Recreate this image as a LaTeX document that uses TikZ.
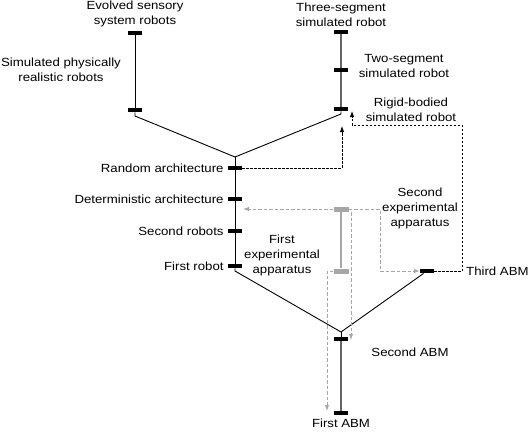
\documentclass[tikz,border=0pt]{standalone}
\usepackage{fontspec}
\setmainfont{Liberation Sans}[FakeStretch=1.12]
\usetikzlibrary{arrows.meta,positioning}

\begin{document}
\begin{tikzpicture}[
  x = 1pt, y = -1pt,
  > = {Latex[length=6pt,width=4.5pt]},
  bar/.style = {rectangle, fill=black, inner sep=0pt,
                minimum width=14pt, minimum height=4.5pt},
  greybar/.style = {bar, fill=black!35, minimum width=15pt, minimum height=5pt},
  lbl/.style = {align=center, inner sep=1pt,
                font=\fontsize{11.8}{15}\selectfont},
  branch/.style = {line width=0.9pt},
  stem/.style = {line width=1.1pt, black!60},
  link/.style = {dashed, dash pattern=on 2.5pt off 1.5pt, line width=0.8pt},
  greylink/.style = {dashed, dash pattern=on 3.5pt off 2pt, line width=1pt, black!35}
]
\useasboundingbox (0,0) rectangle (532,433);

\node[bar] (esr)  at (135,33)  {};
\node[bar] (spr)  at (135,110) {};
\node[bar] (tsr)  at (341,32)  {};
\node[bar] (twsr) at (341,70)  {};
\node[bar] (rbsr) at (341,109) {};

\coordinate (top) at (235,157);

\node[bar] (ra) at (235,168) {};
\node[bar] (da) at (235,199) {};
\node[bar] (sr) at (235,231) {};
\node[bar] (fr) at (235,266) {};

\coordinate (low) at (341,332);

\node[bar] (ta) at (427,271) {};
\node[bar] (sa) at (341,339) {};
\node[bar] (fa) at (341,413) {};

\node[greybar] (ga1) at (341,209) {};
\node[greybar] (ga2) at (341,271) {};

\node[lbl, above=2pt of esr] {Evolved sensory\\system robots};
\node[lbl] at (61,70) {Simulated physically\\realistic robots};
\node[lbl, above=2pt of tsr] {Three-segment\\simulated robot};
\node[lbl] at (404,66) {Two-segment\\simulated robot};
\node[lbl] at (411,110) {Rigid-bodied\\simulated robot};

\node[lbl, left=3pt of ra] {Random architecture};
\node[lbl, left=3pt of da] {Deterministic architecture};
\node[lbl, left=3pt of sr] {Second robots};
\node[lbl, left=3pt of fr] {First robot};

\node[lbl] at (282,255) {First\\experimental\\apparatus};
\node[lbl] at (420,208) {Second\\experimental\\apparatus};
\node[lbl, anchor=west] at (465,271) {Third ABM};
\node[lbl] at (410,352) {Second ABM};
\node[lbl, below=2pt of fa] {First ABM};

\coordinate (raup)   at (342,126);
\coordinate (taup)   at (352,111);
\coordinate (taturn) at (352,125);
\coordinate (daend)  at (243,209);
\coordinate (saend)  at (351,340);
\coordinate (faend)  at (327,411);

\draw[branch] (esr) -- (spr);
\draw[branch] (spr) -- ++(0,6) -- (top);
\draw[stem] (tsr) -- (twsr) -- (rbsr);
\draw[branch] (rbsr) -- ++(0,5) -- (top);
\draw[branch] (top) -- (fr);
\draw[branch] (fr) -- ++(0,5) -- (low);
\draw[branch] (ta) -- (low);
\draw[branch] (low) -- (sa);
\draw[stem] (sa) -- (fa);
\draw[line width=1.3pt, black!35] (ga1) -- (ga2);

\draw[link, ->] (ra.east) -| (raup);
\draw[link, ->] (ta.east) -- ++(28,0) |- (taturn) -- (taup);

\draw[greylink, ->] (ga1.west) -- (daend);
\draw[greylink, ->] (ga1.east) -- (380,209) |- (ta.west);
\draw[greylink, ->] (ga1.east) -| (saend);
\draw[greylink, ->] (ga2.west) -| (faend);
\end{tikzpicture}
\end{document}
